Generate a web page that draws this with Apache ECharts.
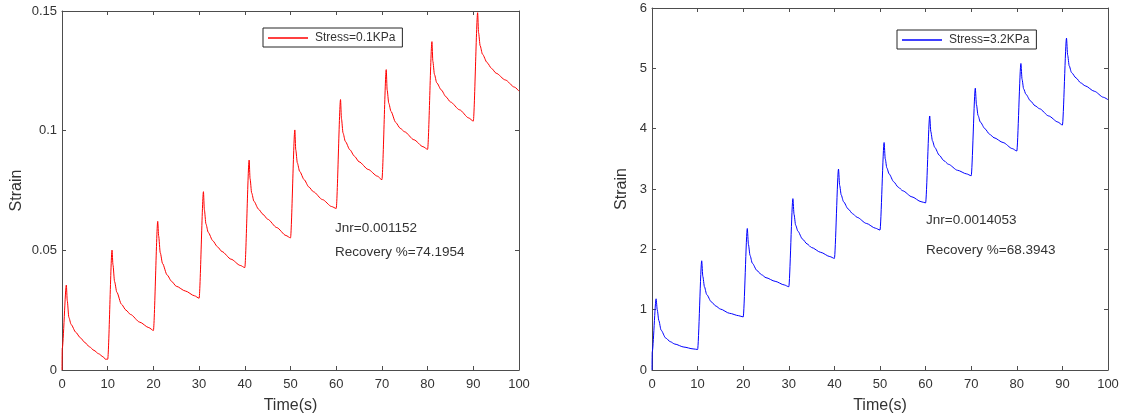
<!DOCTYPE html>
<html>
<head>
<meta charset="utf-8">
<script src="https://cdn.jsdelivr.net/npm/echarts@6/dist/echarts.min.js"></script>
<style>html,body{margin:0;padding:0;background:#fff}#c{width:1123px;height:419px}</style>
</head>
<body>
<div id="c"></div>
<script>
// ---- data ----
const xTicks = [0, 10, 20, 30, 40, 50, 60, 70, 80, 90, 100];
const yTicksLeft = [0, 0.05, 0.1, 0.15];
const yTicksRight = [0, 1, 2, 3, 4, 5, 6];
const legendLeft = 'Stress=0.1KPa';
const legendRight = 'Stress=3.2KPa';
const noteLeft = ['Jnr=0.001152', 'Recovery %=74.1954'];
const noteRight = ['Jnr=0.0014053', 'Recovery %=68.3943'];

const timeLeft = [
  0, 0.05, 0.95, 1.15, 1.5, 2, 3, 4, 5, 6, 7, 8, 9, 9.5,
  10, 10.95, 11.15, 11.5, 12, 13, 14, 15, 17, 19,
  20, 20.95, 21.15, 21.5, 22, 23, 24, 25, 27, 29,
  30, 30.95, 31.15, 31.5, 32, 33, 34, 35, 37, 39,
  40, 40.95, 41.15, 41.5, 42, 43, 44, 45, 47, 49,
  50, 50.95, 51.15, 51.5, 52, 53, 54, 55, 57, 59,
  60, 60.95, 61.15, 61.5, 62, 63, 64, 65, 67, 69,
  70, 70.95, 71.15, 71.5, 72, 73, 74, 75, 77, 79,
  80, 80.95, 81.15, 81.5, 82, 83, 84, 85, 87, 89,
  90, 90.95, 91.15, 91.5, 92, 93, 94, 95, 97, 99, 100
];
const strainLeft = [
  0, 0.009, 0.0355, 0.029, 0.022, 0.019, 0.0158, 0.0135, 0.0115, 0.0097, 0.0082, 0.0068, 0.0055, 0.0045,
  0.0045, 0.0501, 0.044, 0.037, 0.0325, 0.0275, 0.025, 0.0232, 0.0200, 0.0177,
  0.0165, 0.0621, 0.056, 0.049, 0.0445, 0.0397, 0.037, 0.035, 0.0330, 0.0310,
  0.0300, 0.0745, 0.067, 0.061, 0.0575, 0.054, 0.0515, 0.0495, 0.0463, 0.0437,
  0.0428, 0.0877, 0.080, 0.074, 0.0705, 0.0672, 0.065, 0.063, 0.0595, 0.0562,
  0.0552, 0.1003, 0.092, 0.0865, 0.083, 0.0795, 0.0765, 0.0745, 0.0712, 0.0683,
  0.0675, 0.1130, 0.105, 0.099, 0.0955, 0.092, 0.0893, 0.087, 0.0838, 0.0810,
  0.0795, 0.1255, 0.117, 0.1115, 0.108, 0.1035, 0.101, 0.0995, 0.0962, 0.0933,
  0.0922, 0.1372, 0.129, 0.1235, 0.120, 0.117, 0.1142, 0.112, 0.1087, 0.1053,
  0.1040, 0.1493, 0.141, 0.1355, 0.132, 0.1285, 0.126, 0.124, 0.1212, 0.1182, 0.1165
];

const timeRight = [
  0, 0.05, 0.9, 1.15, 1.5, 2, 3, 4, 5, 7, 9,
  10, 10.9, 11.15, 11.5, 12, 13, 14, 15, 17, 19,
  20, 20.9, 21.15, 21.5, 22, 23, 24, 25, 27, 29,
  30, 30.9, 31.15, 31.5, 32, 33, 34, 35, 37, 39,
  40, 40.9, 41.15, 41.5, 42, 43, 44, 45, 47, 49,
  50, 50.9, 51.15, 51.5, 52, 53, 54, 55, 57, 59,
  60, 60.9, 61.15, 61.5, 62, 63, 64, 65, 67, 69,
  70, 70.9, 71.15, 71.5, 72, 73, 74, 75, 77, 79,
  80, 80.9, 81.15, 81.5, 82, 83, 84, 85, 87, 89,
  90, 90.9, 91.15, 91.5, 92, 93, 94, 95, 97, 99, 100
];
const strainRight = [
  0, 0.30, 1.18, 1.0, 0.82, 0.66, 0.53, 0.47, 0.43, 0.38, 0.35,
  0.34, 1.81, 1.55, 1.38, 1.25, 1.13, 1.06, 1.01, 0.94, 0.90,
  0.88, 2.345, 2.08, 1.90, 1.77, 1.65, 1.58, 1.53, 1.47, 1.41,
  1.38, 2.84, 2.58, 2.40, 2.30, 2.17, 2.09, 2.03, 1.95, 1.88,
  1.85, 3.33, 3.06, 2.90, 2.79, 2.67, 2.59, 2.53, 2.43, 2.35,
  2.32, 3.77, 3.50, 3.35, 3.25, 3.12, 3.03, 2.97, 2.87, 2.79,
  2.77, 4.21, 3.95, 3.80, 3.69, 3.56, 3.47, 3.41, 3.31, 3.25,
  3.22, 4.67, 4.40, 4.22, 4.11, 4.00, 3.91, 3.85, 3.77, 3.67,
  3.63, 5.08, 4.82, 4.66, 4.57, 4.46, 4.38, 4.33, 4.21, 4.11,
  4.06, 5.50, 5.22, 5.04, 4.93, 4.84, 4.76, 4.71, 4.62, 4.52, 4.48
];

// ---- chart ----
const FONT = '"Liberation Sans", Arial, sans-serif';
const TXT = '#333333';
const AX = '#4d4d4d';
const RED = '#ff0000';
const BLUE = '#0000ff';

function pairs(t, v) { return t.map((x, i) => [x, v[i]]); }

function xAx(grid, pos) {
  return {
    type: 'value', gridIndex: grid, position: pos,
    min: xTicks[0], max: xTicks[xTicks.length - 1], interval: xTicks[1] - xTicks[0],
    name: pos === 'bottom' ? 'Time(s)' : '', nameLocation: 'middle', nameGap: 28,
    nameTextStyle: { color: TXT, fontSize: 16, fontFamily: FONT },
    axisLine: { show: true, onZero: false, lineStyle: { color: AX, width: 1 } },
    axisTick: { show: true, inside: true, length: 4, lineStyle: { color: AX } },
    axisLabel: { show: pos === 'bottom', color: TXT, fontSize: 13, fontFamily: FONT, margin: 8 },
    splitLine: { show: false }
  };
}
function yAx(grid, pos, ticks, gap) {
  return {
    type: 'value', gridIndex: grid, position: pos,
    min: ticks[0], max: ticks[ticks.length - 1],
    interval: +(ticks[1] - ticks[0]).toFixed(6),
    name: pos === 'left' ? 'Strain' : '', nameLocation: 'middle', nameGap: gap,
    nameTextStyle: { color: TXT, fontSize: 16, fontFamily: FONT },
    axisLine: { show: true, onZero: false, lineStyle: { color: AX, width: 1 } },
    axisTick: { show: true, inside: true, length: 4, lineStyle: { color: AX } },
    axisLabel: { show: pos === 'left', color: TXT, fontSize: 13, fontFamily: FONT, margin: 5,
      formatter: v => String(+v.toFixed(4)) },
    splitLine: { show: false }
  };
}
function legendOf(name, color, left, top) {
  return {
    data: [{ name: name, icon: 'rect', itemStyle: { color: color, borderWidth: 0, opacity: 1 } }],
    left: left, top: top, orient: 'horizontal',
    itemWidth: 40, itemHeight: 1.5, itemGap: 4,
    padding: [4, 7, 3, 5], borderColor: '#262626', borderWidth: 1, backgroundColor: '#fff',
    textStyle: { color: TXT, fontSize: 12, fontFamily: FONT, padding: [0, 0, 0, 2] },
    selectedMode: false
  };
}
function note(lines, x, y1, y2) {
  return [
    { type: 'text', left: x, top: y1, style: { text: lines[0], fill: TXT, fontSize: 13.5, fontFamily: FONT } },
    { type: 'text', left: x, top: y2, style: { text: lines[1], fill: TXT, fontSize: 13.5, fontFamily: FONT } }
  ];
}

const chart = echarts.init(document.getElementById('c'), null, { renderer: 'canvas' });
chart.setOption({
  animation: false,
  backgroundColor: '#fff',
  grid: [
    { left: 62, right: 604, top: 11, bottom: 48 },
    { left: 652, right: 15, top: 8, bottom: 49 }
  ],
  xAxis: [xAx(0, 'bottom'), xAx(0, 'top'), xAx(1, 'bottom'), xAx(1, 'top')],
  yAxis: [yAx(0, 'left', yTicksLeft, 37), yAx(0, 'right', yTicksLeft, 0), yAx(1, 'left', yTicksRight, 22), yAx(1, 'right', yTicksRight, 0)],
  legend: [legendOf(legendLeft, RED, 263, 28), legendOf(legendRight, BLUE, 897, 30)],
  graphic: [].concat(note(noteLeft, 335, 221, 245), note(noteRight, 926, 213, 243)),
  series: [
    { name: legendLeft, type: 'line', xAxisIndex: 0, yAxisIndex: 0, data: pairs(timeLeft, strainLeft),
      showSymbol: false, smooth: 0.25, smoothMonotone: 'x', lineStyle: { color: RED, width: 1 }, itemStyle: { color: RED } },
    { name: legendRight, type: 'line', xAxisIndex: 2, yAxisIndex: 2, data: pairs(timeRight, strainRight),
      showSymbol: false, smooth: 0.25, smoothMonotone: 'x', lineStyle: { color: BLUE, width: 1 }, itemStyle: { color: BLUE } }
  ]
});
</script>
</body>
</html>
